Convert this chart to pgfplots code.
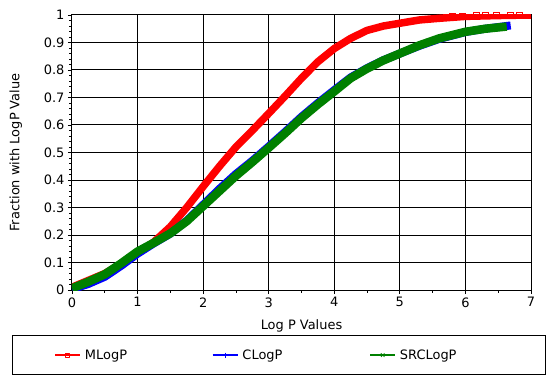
\documentclass[border=0pt]{standalone}
\usepackage{pgfplots}
\pgfplotsset{compat=1.18}
\usepackage{fontspec}
\setmainfont{DejaVu Sans}
\definecolor{mred}{RGB}{255,0,0}
\definecolor{mblue}{RGB}{0,0,255}
\definecolor{mgreen}{RGB}{0,128,0}
\begin{document}
\begin{tikzpicture}
\useasboundingbox (-72bp,-90bp) rectangle (478bp,290bp);
\begin{axis}[
  at={(0,0)}, anchor=south west,
  scale only axis, width=459bp, height=275bp,
  xmin=0, xmax=7, ymin=0, ymax=1,
  xtick={0,1,2,3,4,5,6,7},
  ytick={0,0.1,0.2,0.3,0.4,0.5,0.6,0.7,0.8,0.9,1},
  yticklabels={0,0.1,0.2,0.3,0.4,0.5,0.6,0.7,0.8,0.9,1},
  minor x tick num=1, minor y tick num=4,
  tick align=outside, tick pos=left,
  major tick length=4bp, minor tick length=2.5bp,
  every tick/.style={black, line width=0.8bp},
  grid=major, major grid style={black, line width=1bp},
  axis line style={black, line width=1bp},
  /pgf/number format/assume math mode=true,
  tick label style={font=\fontsize{13}{15}\selectfont},
  label style={font=\fontsize{13}{15}\selectfont},
  xlabel={Log P Values}, ylabel={Fraction with LogP Value},
  xlabel style={yshift=-6bp},
  ylabel style={yshift=15bp},
  legend columns=3,
  legend style={at={(-0.1307,-0.1636)}, anchor=north west, draw=black, line width=1bp,
    inner xsep=42bp, inner ysep=12bp, font=\fontsize{13}{15}\selectfont,
    /tikz/every even column/.append style={column sep=46bp}},
  legend cell align=left,
]
\addplot[mred, line width=7.5bp, line join=round,
  legend image code/.code={\draw[mred, line width=1.5bp] (0bp,0bp) -- (25bp,0bp);
    \draw[mred, line width=0.7bp] plot[mark=square, mark size=2bp] coordinates {(12.5bp,0bp)};}]
coordinates {
(0,0.01) (0.25,0.035) (0.5,0.06) (0.75,0.095) (1.0,0.133) (1.25,0.175) (1.5,0.23)
(1.75,0.30) (2.0,0.376) (2.25,0.45) (2.5,0.52) (2.75,0.58) (3.0,0.642) (3.25,0.705)
(3.5,0.77) (3.75,0.83) (4.0,0.878) (4.25,0.915) (4.5,0.944) (4.75,0.96) (5.0,0.97)
(5.3,0.982) (5.6,0.988) (6.0,0.995) (6.5,0.998) (7.0,1.0)
};
\addlegendentry{\makebox[81bp][l]{\hspace{2bp}MLogP}}
\addplot[mblue, line width=8bp, line join=round,
  legend image code/.code={\draw[mblue, line width=1.5bp] (0bp,0bp) -- (25bp,0bp);
    \draw[mblue, line width=0.7bp] plot[mark=+, mark size=2.5bp] coordinates {(12.5bp,0bp)};}]
coordinates {
(0,0.003) (0.25,0.022) (0.5,0.048) (0.75,0.088) (1.0,0.132) (1.25,0.17) (1.5,0.205)
(1.75,0.252) (2.0,0.31) (2.25,0.368) (2.5,0.422) (2.75,0.47) (3.0,0.522) (3.25,0.575)
(3.5,0.63) (3.75,0.68) (4.0,0.727) (4.25,0.773) (4.5,0.807) (4.75,0.836) (5.0,0.86)
(5.3,0.888) (5.6,0.913) (6.0,0.938) (6.3,0.95) (6.69,0.962)
};
\addlegendentry{\makebox[81bp][l]{\hspace{2bp}CLogP}}
\addplot[mgreen, line width=8.5bp, line join=round,
  legend image code/.code={\draw[mgreen, line width=1.5bp] (0bp,0bp) -- (25bp,0bp);
    \draw[mgreen, line width=0.7bp] plot[mark=x, mark size=2.5bp] coordinates {(12.5bp,0bp)};}]
coordinates {
(0,0.006) (0.25,0.03) (0.5,0.057) (0.75,0.097) (1.0,0.14) (1.25,0.172) (1.5,0.206)
(1.75,0.25) (2.0,0.305) (2.25,0.36) (2.5,0.415) (2.75,0.465) (3.0,0.517) (3.25,0.57)
(3.5,0.625) (3.75,0.675) (4.0,0.722) (4.25,0.77) (4.5,0.805) (4.75,0.835) (5.0,0.86)
(5.3,0.89) (5.6,0.915) (6.0,0.939) (6.3,0.95) (6.63,0.958)
};
\addlegendentry{\makebox[104bp][l]{\hspace{2bp}SRCLogP}}
\addplot[mred, only marks, mark=square, mark size=3bp, line width=1bp, forget plot]
coordinates {(5.81,0.995) (5.95,0.996) (6.17,0.997) (6.30,0.997) (6.48,0.998) (6.68,0.998) (6.83,0.999)};
\end{axis}
\end{tikzpicture}
\end{document}
